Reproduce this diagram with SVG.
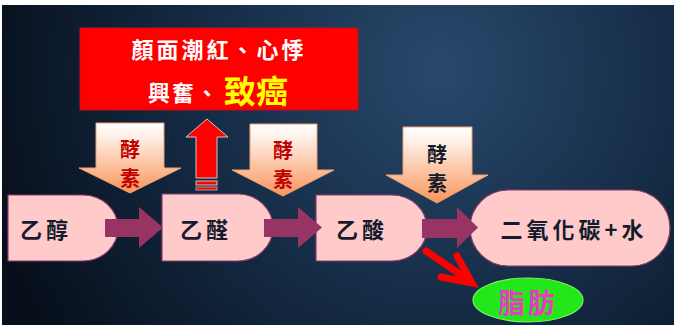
<svg xmlns="http://www.w3.org/2000/svg" width="674" height="327" viewBox="0 0 674 327">
<defs>
<radialGradient id="bg" cx="440" cy="70" r="470" gradientUnits="userSpaceOnUse">
<stop offset="0" stop-color="#29496c"/>
<stop offset="0.5" stop-color="#152c46"/>
<stop offset="1" stop-color="#070f1b"/>
</radialGradient>
<linearGradient id="enz" x1="0" y1="0" x2="0" y2="1">
<stop offset="0" stop-color="#ffffff"/>
<stop offset="0.15" stop-color="#fff4ee"/>
<stop offset="1" stop-color="#f9955a"/>
</linearGradient>
<style>
.cjk{font-family:"Noto Sans CJK TC","Noto Sans CJK SC",sans-serif;font-weight:bold;text-anchor:middle;dominant-baseline:central}
.node{fill:#ffcaca;stroke:#8e3a6a;stroke-width:1.2}
.ntext{fill:#141c2c;font-size:22px;letter-spacing:4px}
.enz{fill:url(#enz);stroke:#f0a070;stroke-width:1}
.etext{font-size:20px}
.flow{fill:#973463}
</style>
</defs>
<rect x="0" y="0" width="674" height="327" fill="#ffffff"/>
<rect x="2" y="5" width="672" height="320" fill="url(#bg)"/>

<g id="effects">
<rect x="80" y="28" width="278" height="82" fill="#ff0000" stroke="#c01020" stroke-width="1"/>
<text class="cjk" x="219" y="48" font-size="22" fill="#ffffff" letter-spacing="3">顏面潮紅、心悸</text>
<text class="cjk" x="184" y="91" font-size="22" fill="#ffffff" letter-spacing="2">興奮、</text>
<text class="cjk" x="256" y="89" font-size="32" fill="#ffff00" font-weight="normal">致癌</text>
</g>

<g id="enzyme1">
<polygon class="enz" points="96,123 164,123 164,168 181,168 130,193 79,168 96,168"/>
<text class="cjk etext" x="130" y="148" fill="#c00000">酵</text>
<text class="cjk etext" x="130" y="177" fill="#c00000">素</text>
</g>
<g id="enzyme2">
<polygon class="enz" points="250,124 317,124 317,170 334,170 283,196 232,170 250,170"/>
<text class="cjk etext" x="283" y="149" fill="#c00000">酵</text>
<text class="cjk etext" x="283" y="178" fill="#c00000">素</text>
</g>
<g id="enzyme3">
<polygon class="enz" points="403,127 472,127 472,175 488,175 437,203 386,175 403,175"/>
<text class="cjk etext" x="437" y="153" fill="#141c2c">酵</text>
<text class="cjk etext" x="437" y="182" fill="#141c2c">素</text>
</g>

<g id="ethanol">
<path class="node" d="M8,195 H83 A35,33 0 0 1 83,261 H8 Z"/>
<text class="cjk ntext" x="46" y="228">乙醇</text>
</g>
<g id="acetaldehyde">
<path class="node" d="M162,194 H238 A35,33.5 0 0 1 238,261 H162 Z"/>
<text class="cjk ntext" x="206" y="228">乙醛</text>
</g>
<g id="acetic">
<path class="node" d="M316,195 H392 A35,33 0 0 1 392,261 H316 Z"/>
<text class="cjk ntext" x="362" y="228">乙酸</text>
</g>
<g id="co2water">
<rect class="node" x="470" y="190" width="200" height="76" rx="38" ry="38"/>
<text class="cjk ntext" x="574" y="228">二氧化碳+水</text>
</g>
<g id="fat">
<ellipse cx="528" cy="300" rx="55" ry="22" fill="#22e81a" stroke="#7cf06a" stroke-width="1.2"/>
<text class="cjk" x="528" y="301" font-size="27" fill="#e83cc0" font-weight="normal" letter-spacing="3">脂肪</text>
</g>

<g id="connectors">
<polygon class="flow" points="105,219 139,219 139,207 163,227.5 139,248 139,237 105,237"/>
<polygon class="flow" points="264,219 298,219 298,207 322,227.5 298,248 298,237 264,237"/>
<polygon class="flow" points="422,219 457,219 457,207 478,227.5 457,248 457,238 422,238"/>
<polygon points="207,119 228,137 217,137 217,178 196,178 196,137 186,137" fill="#ff0000" stroke="#c8c8c8" stroke-width="1"/>
<rect x="196" y="181" width="21" height="4" fill="#ff0000" stroke="#c8c8c8" stroke-width="1"/>
<rect x="196" y="187" width="21" height="3" fill="#ff0000" stroke="#a0a0a0" stroke-width="1"/>
<g stroke="#ff0000" stroke-width="7" stroke-linecap="round" fill="none">
<line x1="426" y1="251" x2="470" y2="281"/>
<polyline points="457,256 472,283 441,277" stroke-linejoin="miter"/>
</g>
</g>
</svg>
